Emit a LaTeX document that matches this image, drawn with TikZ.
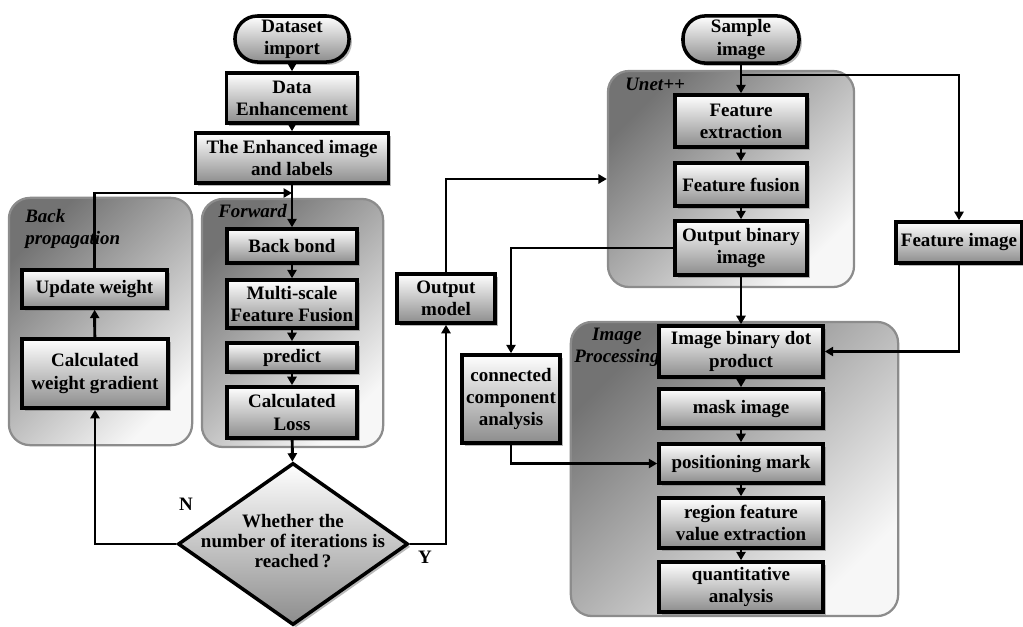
\documentclass[tikz,border=0pt]{standalone}
\usepackage{fontspec}
\setmainfont{Liberation Serif}
\usetikzlibrary{shapes.geometric,arrows.meta,shadows}

\newcommand\flowfont{\fontsize{13.5}{15.8}\selectfont\bfseries}

\tikzset{
  box/.style={draw, line width=2.5pt, top color=white, bottom color=black!45,
    drop shadow={shadow xshift=2pt, shadow yshift=-2pt, fill=black!55},
    align=center, font=\flowfont, inner sep=1pt},
  term/.style={box, rounded corners=16pt},
  decision/.style={box, diamond, aspect=1.42, inner sep=0pt},
  group/.style={draw=black!45, line width=1.6pt, rounded corners=15pt,
    top color=black!55, bottom color=black!3, shading angle=45},
  grouplabel/.style={font=\flowfont\itshape, align=left, inner sep=0pt},
  flow/.style={line width=2.1pt, -{Triangle[length=6pt,width=6.5pt]}}
}

\begin{document}
\begin{tikzpicture}[x=0.025cm, y=-0.025cm]
\useasboundingbox (0,0) rectangle (1023,626);

% groups
\node[group, minimum width=4.58cm, minimum height=6.18cm] (backprop) at (100.5,321.5) {};
\node[group, minimum width=4.53cm, minimum height=6.2cm] (forward) at (292.5,323) {};
\node[group, minimum width=6.15cm, minimum height=5.4cm] (unet) at (731,179) {};
\node[group, minimum width=8.18cm, minimum height=7.35cm] (improc) at (734.5,469) {};

\node[grouplabel, anchor=north west] (backproplbl) at (25,209) {Back\\propagation};
\node[grouplabel, anchor=base west] (forwardlbl) at (218,217) {Forward};
\node[grouplabel, anchor=base west] (unetlbl) at (625,90) {Unet++};
\node[grouplabel, anchor=north, align=center] (improclbl) at (617,328) {Image\\Processing};

% training
\node[term, minimum width=2.85cm, minimum height=1.15cm] (data) at (292,39) {Dataset\\import};
\node[box, minimum width=3.28cm, minimum height=1.25cm] (enh) at (292,98) {Data\\Enhancement};
\node[box, minimum width=4.83cm, minimum height=1.25cm] (imglab) at (292,158) {The Enhanced image\\and labels};
\node[box, minimum width=3.25cm, minimum height=0.85cm] (bb) at (292,246) {Back bond};
\node[box, minimum width=3.25cm, minimum height=1.2cm] (msff) at (292,304) {Multi-scale\\Feature Fusion};
\node[box, minimum width=3.25cm, minimum height=0.73cm] (pred) at (292,357.5) {predict};
\node[box, minimum width=3.25cm, minimum height=1.28cm] (loss) at (292,412.5) {Calculated\\Loss};
\node[box, minimum width=3.63cm, minimum height=0.95cm] (upd) at (94.5,289) {Update weight};
\node[box, minimum width=3.65cm, minimum height=1.73cm] (grad) at (95,373.5) {Calculated\\weight gradient};
\node[decision, minimum width=5.75cm, minimum height=4.05cm] (iter) at (293,544) {};
\node[font=\fontsize{13.5}{14}\selectfont\bfseries, align=center] (iterq) at (293,541) {Whether the\\number of iterations is\\reached\,?};
\node[font=\flowfont] (nlbl) at (186,504) {N};
\node[font=\flowfont] (ylbl) at (425,557) {Y};
\node[box, minimum width=2.45cm, minimum height=1.23cm] (outm) at (446,298.5) {Output\\model};

% segmentation
\node[term, minimum width=2.9cm, minimum height=1.18cm] (samp) at (741,39.5) {Sample\\image};
\node[box, minimum width=3.3cm, minimum height=1.3cm] (fext) at (741,121) {Feature\\extraction};
\node[box, minimum width=3.3cm, minimum height=1.08cm] (ffus) at (741,184.5) {Feature fusion};
\node[box, minimum width=3.3cm, minimum height=1.35cm] (obin) at (741,248) {Output binary\\image};
\node[box, minimum width=3.15cm, minimum height=1.03cm] (fimg) at (959,242.5) {Feature image};
\node[box, minimum width=2.45cm, minimum height=2.2cm] (cca) at (511,399) {connected\\component\\analysis};
\node[box, minimum width=4.1cm, minimum height=1.28cm] (dot) at (741,351.5) {Image binary dot\\product};
\node[box, minimum width=4.1cm, minimum height=0.98cm] (mask) at (741,408.5) {mask image};
\node[box, minimum width=4.1cm, minimum height=0.98cm] (pos) at (741,463.5) {positioning mark};
\node[box, minimum width=4.1cm, minimum height=1.25cm] (region) at (741,523) {region feature\\value extraction};
\node[box, minimum width=4.1cm, minimum height=1.25cm] (quant) at (741,587) {quantitative\\analysis};

\coordinate (merge) at (292,193);
\coordinate (split) at (741,75);

\foreach \a/\b in {data/enh, enh/imglab, imglab/bb, bb/msff, msff/pred, pred/loss, loss/iter,
  grad/upd, samp/fext, fext/ffus, ffus/obin, obin/dot, dot/mask, mask/pos, pos/region, region/quant}
  \draw[flow] (\a) -- (\b);

\draw[flow] (upd) |- (merge);
\draw[flow] (iter.west) -| (grad);
\draw[flow] (iter.east) -| (outm);
\draw[flow] (outm) |- (unet.west);
\draw[flow] (split) -| (fimg);
\draw[flow] (fimg) |- (dot);
\draw[flow] (obin.west) -| (cca);
\draw[flow] (cca) |- (pos);

\end{tikzpicture}
\end{document}
